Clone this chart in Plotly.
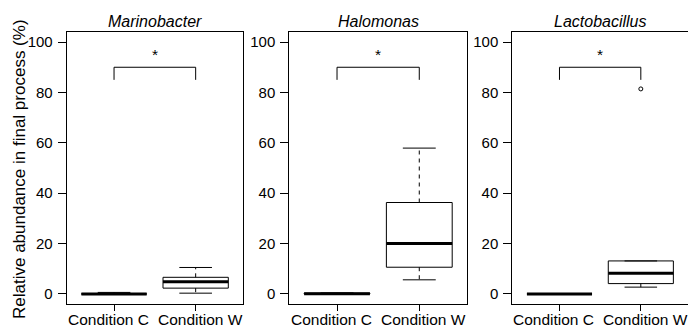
import plotly.graph_objects as go

# ---------------- data ----------------
genera = ["Marinobacter", "Halomonas", "Lactobacillus"]
categories = ["Condition C", "Condition W"]
y_tick_values = [0, 20, 40, 60, 80, 100]

lower_whisker = [[0.0, 0.3], [0.0, 5.6], [0.0, 2.7]]
q1 = [[0.0, 2.3], [0.0, 10.6], [0.0, 4.1]]
median = [[0.0, 4.8], [0.1, 20.0], [0.0, 8.2]]
q3 = [[0.2, 6.6], [0.3, 36.3], [0.1, 13.1]]
upper_whisker = [[0.6, 10.5], [0.4, 57.9], [0.1, 13.1]]
outliers = [[[], []], [[], []], [[], [81.4]]]

bracket_low = 85
bracket_high = 90
star_y = 95
significance = ["*", "*", "*"]

# ---------------- layout constants ----------------
W, H = 688, 327
FONT = "Liberation Sans, Arial, Helvetica, sans-serif"
box_half = 0.4
cap_half = 0.2
x_domains = [(66.7 / W, 243.0 / W), (289.3 / W, 467.0 / W), (512.3 / W, 1.0)]
title_centers = [155.0, 378.0, 600.5]
y_domain = (1 - 304.0 / H, 1 - 32.0 / H)
label_shift = [-6, 4.5]

fig = go.Figure()
annotations = []

for p, genus in enumerate(genera):
    xa = "x" if p == 0 else f"x{p+1}"
    ya = "y" if p == 0 else f"y{p+1}"
    for i, cat in enumerate(categories):
        c = i + 1
        lo, a, m, b, hi = (lower_whisker[p][i], q1[p][i], median[p][i],
                           q3[p][i], upper_whisker[p][i])
        # whiskers (dashed)
        for y0, y1 in ((b, hi), (a, lo)):
            if y1 != y0:
                fig.add_trace(go.Scatter(x=[c, c], y=[y0, y1], mode="lines",
                                         line=dict(color="black", width=1, dash="4px,4px"),
                                         xaxis=xa, yaxis=ya, showlegend=False, hoverinfo="skip"))
        # caps
        for yv in (hi, lo):
            fig.add_trace(go.Scatter(x=[c - cap_half, c + cap_half], y=[yv, yv], mode="lines",
                                     line=dict(color="black", width=1),
                                     xaxis=xa, yaxis=ya, showlegend=False, hoverinfo="skip"))
        # box
        fig.add_trace(go.Scatter(x=[c - box_half, c + box_half, c + box_half, c - box_half, c - box_half],
                                 y=[a, a, b, b, a], mode="lines",
                                 line=dict(color="black", width=1),
                                 xaxis=xa, yaxis=ya, showlegend=False, hoverinfo="skip"))
        # median
        fig.add_trace(go.Scatter(x=[c - box_half, c + box_half], y=[m, m], mode="lines",
                                 line=dict(color="black", width=3),
                                 xaxis=xa, yaxis=ya, showlegend=False, hoverinfo="skip"))
        # outliers
        if outliers[p][i]:
            fig.add_trace(go.Scatter(x=[c] * len(outliers[p][i]), y=outliers[p][i], mode="markers",
                                     marker=dict(symbol="circle-open", size=4, color="black",
                                                 line=dict(width=1, color="black")),
                                     xaxis=xa, yaxis=ya, showlegend=False, hoverinfo="skip"))
        # category label under the axis
        annotations.append(dict(x=c, y=1 - 319.0 / H, xref=xa, yref="paper", text=cat,
                                xshift=label_shift[i], showarrow=False,
                                font=dict(family=FONT, size=15.5, color="black"),
                                xanchor="center", yanchor="middle"))
    # significance bracket
    fig.add_trace(go.Scatter(x=[1, 1, 2, 2], y=[bracket_low, bracket_high, bracket_high, bracket_low],
                             mode="lines", line=dict(color="black", width=1),
                             xaxis=xa, yaxis=ya, showlegend=False, hoverinfo="skip"))
    annotations.append(dict(x=1.5, y=star_y, xref=xa, yref=ya, text=significance[p],
                            showarrow=False, font=dict(family=FONT, size=15.5, color="black"),
                            yanchor="middle"))
    # panel title
    annotations.append(dict(x=title_centers[p] / W, y=1 - 22.0 / H, xref="paper", yref="paper",
                            text=f"<i>{genus}</i>", showarrow=False,
                            font=dict(family=FONT, size=16, color="black"),
                            xanchor="center", yanchor="middle"))

axis_common = dict(showline=True, mirror=True, linecolor="black", linewidth=1,
                   ticks="outside", ticklen=8, tickwidth=1, tickcolor="black",
                   showgrid=False, zeroline=False,
                   tickfont=dict(family=FONT, size=15, color="black"))

layout = dict(width=W, height=H, margin=dict(l=0, r=0, t=0, b=0),
              paper_bgcolor="white", plot_bgcolor="white", showlegend=False,
              annotations=annotations)
for p in range(3):
    xk = "xaxis" if p == 0 else f"xaxis{p+1}"
    yk = "yaxis" if p == 0 else f"yaxis{p+1}"
    layout[xk] = dict(axis_common, domain=list(x_domains[p]), range=[0.42, 2.58],
                      tickvals=[1, 2], ticktext=["", ""], ticklen=6,
                      anchor="y" if p == 0 else f"y{p+1}")
    layout[yk] = dict(axis_common, domain=list(y_domain), range=[-4, 104],
                      tickvals=y_tick_values, ticktext=[str(v) for v in y_tick_values],
                      ticklabelstandoff=2,
                      anchor="x" if p == 0 else f"x{p+1}")

annotations.append(dict(x=19.0 / W, y=1 - 169.0 / H, xref="paper", yref="paper",
                        text="Relative abundance in final process (%)", textangle=-90,
                        showarrow=False, font=dict(family=FONT, size=17, color="black"),
                        xanchor="center", yanchor="middle"))

fig.update_layout(**layout)
fig.write_html("out.html", config={"displayModeBar": False},
               post_script="document.body.style.margin='0';document.body.style.overflow='hidden';")
